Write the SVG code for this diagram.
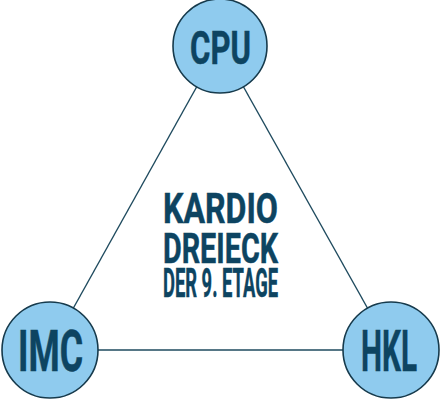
<svg xmlns="http://www.w3.org/2000/svg" width="441" height="400" viewBox="0 0 441 400">
<style>
.node circle{fill:#8fcbee;stroke:#163a4c;stroke-width:1.6}
.lbl{font-family:Roboto,"Liberation Sans",sans-serif;font-weight:bold;fill:#0d4461;stroke:#0d4461;stroke-width:0.5}
.edge{stroke:#1e4a5e;stroke-width:1.4;fill:none}
</style>
<rect width="441" height="400" fill="#fff"/>
<g id="connectors">
<line class="edge" x1="220" y1="45" x2="50" y2="350"/>
<line class="edge" x1="220" y1="45" x2="391" y2="350"/>
<line class="edge" x1="50" y1="350" x2="391" y2="350"/>
</g>
<g id="cpu" class="node"><circle cx="220" cy="46" r="47"/><text class="lbl" x="190" y="64" font-size="46" textLength="61" lengthAdjust="spacingAndGlyphs">CPU</text></g>
<g id="imc" class="node"><circle cx="50" cy="350" r="48"/><text class="lbl" x="18" y="371" font-size="57" textLength="65" lengthAdjust="spacingAndGlyphs">IMC</text></g>
<g id="hkl" class="node"><circle cx="391" cy="350" r="48"/><text class="lbl" x="361" y="371" font-size="57" textLength="56" lengthAdjust="spacingAndGlyphs">HKL</text></g>
<g id="title">
<text class="lbl" x="163" y="223" font-size="43" textLength="115" lengthAdjust="spacingAndGlyphs">KARDIO</text>
<text class="lbl" x="163" y="263" font-size="43" textLength="115" lengthAdjust="spacingAndGlyphs">DREIECK</text>
<text class="lbl" x="163" y="297" font-size="40" textLength="115" lengthAdjust="spacingAndGlyphs">DER 9. ETAGE</text>
</g>
</svg>
